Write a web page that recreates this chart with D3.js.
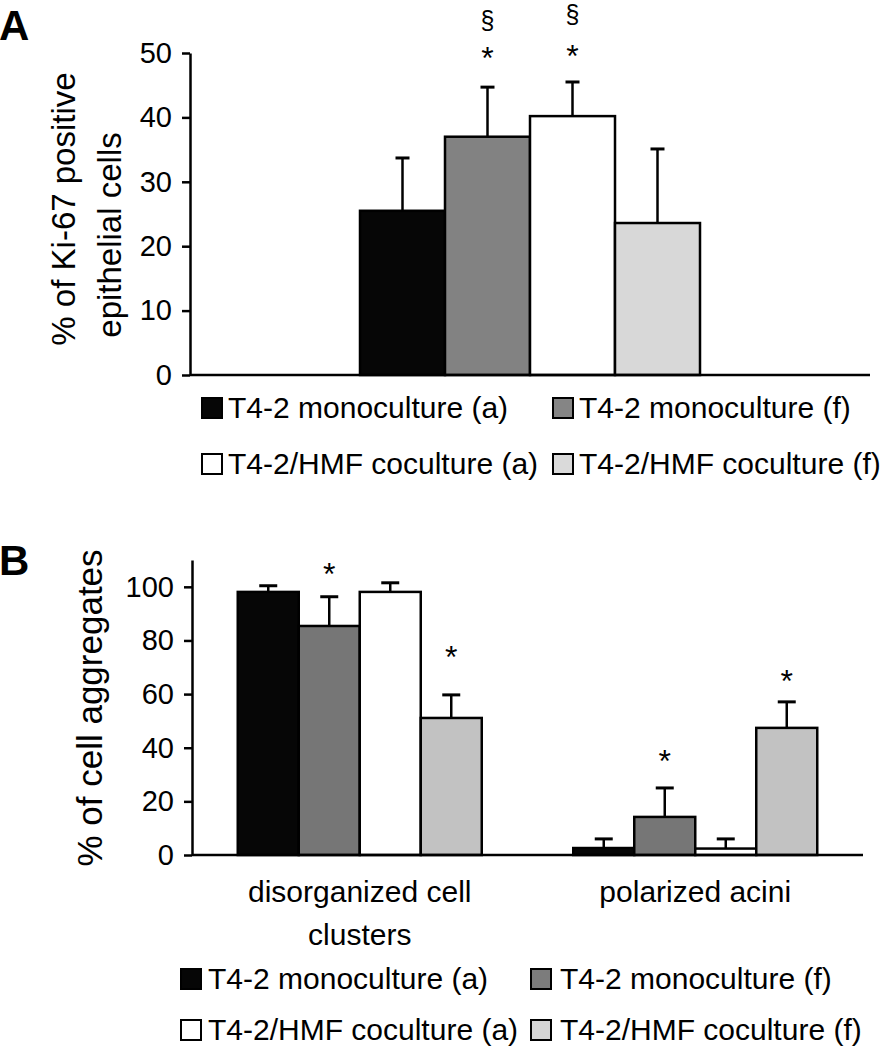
<!DOCTYPE html>
<html>
<head>
<meta charset="utf-8">
<script src="https://cdn.jsdelivr.net/npm/d3@7"></script>
<style>
  body { margin: 0; background: #fff; }
  text { font-family: "Liberation Sans", Arial, sans-serif; fill: #000; }
</style>
</head>
<body>
<svg id="fig" width="888" height="1050"></svg>
<script>
// ---- data ----
const seriesNames = ["T4-2 monoculture (a)", "T4-2 monoculture (f)", "T4-2/HMF coculture (a)", "T4-2/HMF coculture (f)"];

// panel A: % of Ki-67 positive epithelial cells
const kiTicks = [0, 10, 20, 30, 40, 50];
const kiMeans = [25.5, 37.0, 40.2, 23.6];
const kiErrors = [8.2, 7.7, 5.3, 11.5];
const kiStarAt = [null, 50.2, 50.5, null];
const kiSectionAt = [null, 55.2, 56.0, null];

// panel B: % of cell aggregates
const aggCategories = [["disorganized cell", "clusters"], ["polarized acini"]];
const aggTicks = [0, 20, 40, 60, 80, 100];
const aggMeans = [[98.1, 85.4, 98.1, 51.1], [2.6, 14.2, 2.4, 47.4]];
const aggErrors = [[2.3, 10.9, 3.4, 8.6], [3.4, 10.8, 3.6, 9.7]];
const aggStarAt = [[null, 107.0, null, 76.0], [null, 37.4, null, 67.2]];

const fillsA = ["#060606", "#828282", "#ffffff", "#d8d8d8"];
const fillsB = ["#060606", "#767676", "#ffffff", "#c2c2c2"];

const svg = d3.select("#fig");

function drawBars(g, rows, x0, x1, y, fills, cap) {
  rows.forEach(r => {
    const gx = x0(r.key);
    r.means.forEach((m, i) => {
      const left = gx + x1(i), w = x1.bandwidth(), cx = left + w / 2;
      g.append("rect")
        .attr("x", left).attr("y", y(m))
        .attr("width", w).attr("height", y(0) - y(m))
        .attr("fill", fills[i]).attr("stroke", "#000").attr("stroke-width", 2.5);
      const top = y(m + r.errs[i]);
      g.append("line").attr("x1", cx).attr("x2", cx).attr("y1", y(m)).attr("y2", top)
        .attr("stroke", "#000").attr("stroke-width", 2.5);
      g.append("line").attr("x1", cx - cap / 2).attr("x2", cx + cap / 2).attr("y1", top).attr("y2", top)
        .attr("stroke", "#000").attr("stroke-width", 3);
      if (r.stars[i] != null) {
        g.append("text").attr("x", cx).attr("y", y(r.stars[i]) + 17)
          .attr("text-anchor", "middle").style("font-size", "32px").text("*");
      }
      if (r.sects && r.sects[i] != null) {
        g.append("text").attr("x", cx).attr("y", y(r.sects[i]) + 9)
          .attr("text-anchor", "middle").style("font-size", "25px").text("§");
      }
    });
  });
}

function drawYAxis(g, y, ticks, x) {
  const ax = g.append("g").attr("transform", `translate(${x},0)`)
    .call(d3.axisLeft(y).tickValues(ticks).tickSize(8).tickSizeOuter(0).tickPadding(10));
  ax.select(".domain").attr("stroke-width", 2.5);
  ax.selectAll(".tick line").attr("stroke-width", 2.5);
  ax.selectAll(".tick text").style("font-size", "29px").attr("fill", "#000");
}

function drawLegend(g, cols, rows, swatch, textGap, size, fills) {
  seriesNames.forEach((name, i) => {
    const cx = cols[i % 2], by = rows[Math.floor(i / 2)];
    g.append("rect").attr("x", cx).attr("y", by - swatch).attr("width", swatch).attr("height", swatch)
      .attr("fill", fills[i]).attr("stroke", "#000").attr("stroke-width", 2);
    g.append("text").attr("x", cx + swatch + textGap[i % 2]).attr("y", by)
      .style("font-size", size + "px").text(name);
  });
}

// ---------- panel A ----------
const gA = svg.append("g");
const yA = d3.scaleLinear().domain([0, 50]).range([375, 53]);
const xA0 = d3.scaleBand().domain(["Ki-67"]).range([190, 870]);
const xA1 = d3.scaleBand().domain(d3.range(4)).range([0, xA0.bandwidth()]).paddingOuter(2);

drawBars(gA, [{ key: "Ki-67", means: kiMeans, errs: kiErrors, stars: kiStarAt, sects: kiSectionAt }],
  xA0, xA1, yA, fillsA, 14);
drawYAxis(gA, yA, kiTicks, 190);
gA.append("line").attr("x1", xA0.range()[0]).attr("x2", xA0.range()[1])
  .attr("y1", yA(0)).attr("y2", yA(0)).attr("stroke", "#000").attr("stroke-width", 2.5);

gA.append("text").attr("transform", `translate(75,209) rotate(-90)`).attr("text-anchor", "middle")
  .style("font-size", "33px").text("% of Ki-67 positive");
gA.append("text").attr("transform", `translate(121,235) rotate(-90)`).attr("text-anchor", "middle")
  .style("font-size", "33px").text("epithelial cells");
gA.append("text").attr("x", -1).attr("y", 40).style("font-size", "42px").style("font-weight", "bold").text("A");

drawLegend(gA, [202, 553], [418, 474], 20, [6, 6], 30, ["#060606", "#858585", "#ffffff", "#dadada"]);

// ---------- panel B ----------
const gB = svg.append("g");
const yB = d3.scaleLinear().domain([0, 110]).range([855, 560]);
const xB0 = d3.scaleBand().domain(aggCategories.map(c => c.join(" "))).range([192, 863]);
const xB1 = d3.scaleBand().domain(d3.range(4)).range([0, xB0.bandwidth()]).paddingOuter(0.75);

drawBars(gB, aggCategories.map((c, gi) => ({ key: c.join(" "), means: aggMeans[gi], errs: aggErrors[gi], stars: aggStarAt[gi] })),
  xB0, xB1, yB, fillsB, 18);
drawYAxis(gB, yB, aggTicks, 192);
gB.append("line").attr("x1", xB0.range()[0]).attr("x2", xB0.range()[1])
  .attr("y1", yB(0)).attr("y2", yB(0)).attr("stroke", "#000").attr("stroke-width", 2.5);

aggCategories.forEach(c => {
  const cx = xB0(c.join(" ")) + xB0.bandwidth() / 2;
  const t = gB.append("text").attr("x", cx).attr("y", 902)
    .attr("text-anchor", "middle").style("font-size", "30px");
  c.forEach((line, li) => t.append("tspan").attr("x", cx).attr("dy", li ? 43 : 0).text(line));
});

gB.append("text").attr("transform", `translate(102,708) rotate(-90)`).attr("text-anchor", "middle")
  .style("font-size", "35px").text("% of cell aggregates");
gB.append("text").attr("x", -1).attr("y", 575).style("font-size", "42px").style("font-weight", "bold").text("B");

drawLegend(gB, [181, 531], [989, 1040], 20, [7, 9], 30, ["#060606", "#7c7c7c", "#ffffff", "#d4d4d4"]);
</script>
</body>
</html>
